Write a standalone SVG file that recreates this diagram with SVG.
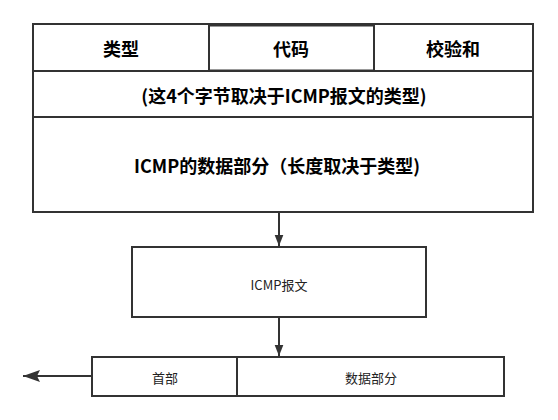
<svg xmlns="http://www.w3.org/2000/svg" width="558" height="420" viewBox="0 0 558 420">
<style>
.b{fill:#fff;stroke:#333;stroke-width:2}
.t{font-family:"Noto Sans CJK SC","Noto Sans",sans-serif;fill:#000;text-anchor:middle;dominant-baseline:central}
.h{font-size:18px;font-weight:bold}
.s{font-size:13px;fill:#222}
.c{stroke:#333;stroke-width:2;fill:none}
</style>
<defs>
<marker id="a" markerWidth="11" markerHeight="14" refX="14" refY="5.5" orient="auto" markerUnits="userSpaceOnUse" viewBox="0 0 14 11">
<path d="M0,0 L14,5.5 L0,11 Z" fill="#333"/>
</marker>
<marker id="a2" markerWidth="17" markerHeight="12" refX="17" refY="6" orient="auto" markerUnits="userSpaceOnUse" viewBox="0 0 17 12">
<path d="M0,0 L17,6 L0,12 L3,6 Z" fill="#333"/>
</marker>
</defs>
<g id="icmp-format">
<rect class="b" x="33" y="24" width="500" height="188"/>
<line class="c" x1="33" y1="71" x2="533" y2="71"/>
<line class="c" x1="33" y1="117" x2="533" y2="117"/>
<rect class="b" x="209" y="25.5" width="165" height="45"/>
<text class="t h" x="121" y="48">类型</text>
<text class="t h" x="291" y="48">代码</text>
<text class="t h" x="453" y="48">校验和</text>
<text class="t h" x="284" y="95">(这4个字节取决于ICMP报文的类型)</text>
<text class="t h" x="277" y="165">ICMP的数据部分（长度取决于类型)</text>
</g>
<g id="icmp-msg">
<rect class="b" x="132" y="247" width="294" height="70"/>
<text class="t s" x="279" y="284">ICMP报文</text>
</g>
<g id="ip-datagram">
<rect class="b" x="92" y="357" width="412" height="39"/>
<line class="c" x1="237" y1="357" x2="237" y2="396"/>
<text class="t s" x="165" y="377">首部</text>
<text class="t s" x="371" y="377">数据部分</text>
</g>
<g id="connectors">
<line class="c" x1="279" y1="212" x2="279" y2="246" marker-end="url(#a)"/>
<line class="c" x1="279" y1="317" x2="279" y2="356" marker-end="url(#a)"/>
<line class="c" x1="92" y1="376" x2="23" y2="376" marker-end="url(#a2)"/>
</g>
</svg>
